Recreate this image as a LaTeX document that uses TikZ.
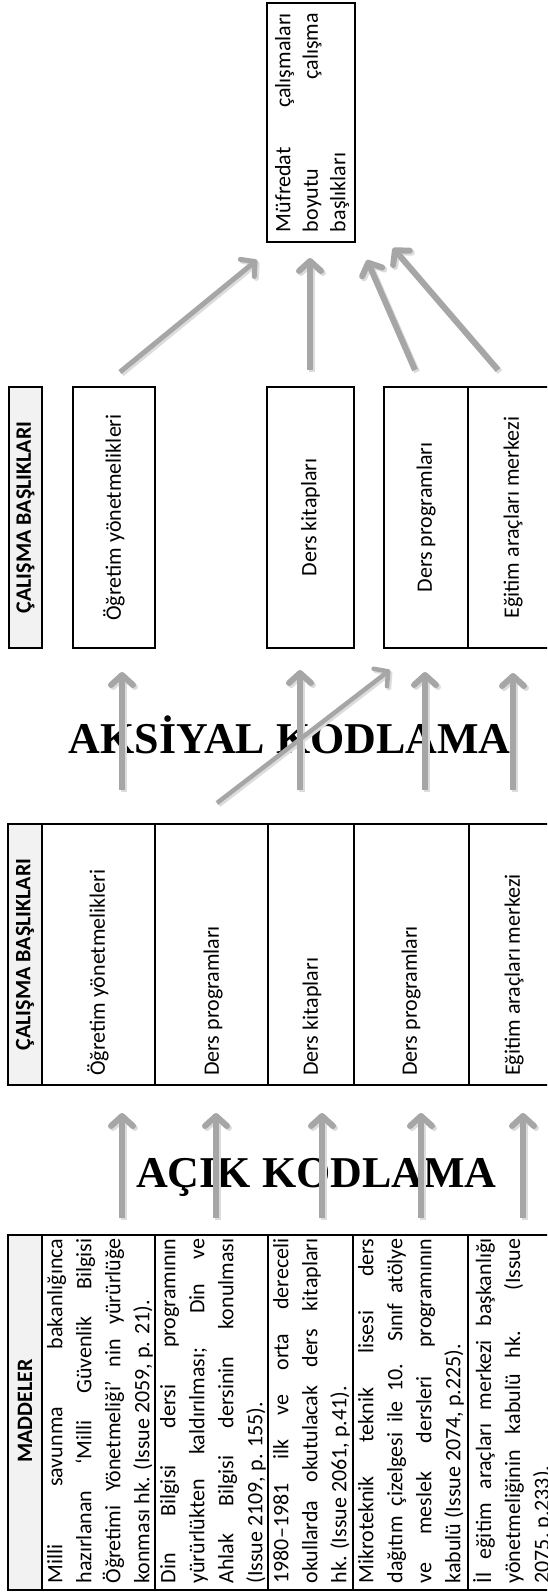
\documentclass[tikz,border=0pt]{standalone}
\usepackage{fontspec}
\setmainfont{Carlito}
\newfontfamily\titlefont{Liberation Serif}
\usetikzlibrary{arrows.meta}
\definecolor{headgray}{HTML}{F2F2F2}
\definecolor{arrowgray}{HTML}{A6A6A6}
\definecolor{shadegray}{HTML}{DCDCDC}

\tikzset{
  cell/.style={draw=black, line width=1.5pt},
  headcell/.style={cell, fill=headgray},
  celltext/.style={rotate=90, inner sep=0pt, font=\fontsize{22}{29}\selectfont},
  itemtext/.style={celltext, anchor=north, text width=345pt, align=justify,
    execute at begin node={\tolerance=10000\hbadness=10000\hyphenpenalty=10000}},
  headtext/.style={celltext, font=\fontsize{22}{29}\selectfont\bfseries},
  codetitle/.style={inner sep=0pt, font=\titlefont\bfseries\fontsize{44}{50}\selectfont},
  codearrow/.style={draw=arrowgray, line width=#1, -{Straight Barb[length=10pt,width=22pt,round]}},
  codearrow/.default=6pt,
  arrowshade/.style={codearrow=#1, draw=shadegray},
  arrowshade/.default=6pt,
}

\begin{document}
\begin{tikzpicture}[x=1pt,y=-1pt]
\useasboundingbox (0,0) rectangle (547,1592);
\clip (0,0) rectangle (547,1592);
\fill[white] (0,0) rectangle (547,1592);

% top box
\draw[line width=2.5pt] (267,3) rectangle (355,242);
\node[itemtext, text width=219pt, font=\fontsize{22}{27.5}\selectfont] (mufredat) at (275,122.5)
  {Müfredat çalışmaları\linebreak boyutu çalışma\linebreak başlıkları};

% second set of headings
\draw[headcell] (9,387) rectangle (42,648);
\node[headtext] (head2) at (25.5,517.5) {ÇALIŞMA BAŞLIKLARI};
\draw[cell] (73,387) rectangle (155,648);
\node[celltext] (ogr2) at (114,517.5) {Öğretim yönetmelikleri};
\draw[cell] (267,387) rectangle (354,648);
\node[celltext] (kit2) at (310.5,517.5) {Ders kitapları};
\draw[cell] (384,387) rectangle (559,648);
\draw[cell] (468,387) -- (468,648);
\node[celltext] (prg2) at (426,517.5) {Ders programları};
\node[celltext] (ega2) at (513,517.5) {Eğitim araçları merkezi};

% first set of headings
\draw[cell] (8,824) rectangle (559,1085);
\draw[headcell] (8,824) rectangle (42,1085);
\foreach \x in {155,268,354,469}
  \draw[cell] (\x,824) -- (\x,1085);
\node[headtext] (head1) at (25,954.5) {ÇALIŞMA BAŞLIKLARI};
\node[celltext, anchor=west] (ogr1) at (98,1076) {Öğretim yönetmelikleri};
\node[celltext, anchor=west] (prg1) at (213,1076) {Ders programları};
\node[celltext, anchor=west] (kit1) at (312,1076) {Ders kitapları};
\node[celltext, anchor=west] (prg1b) at (411,1076) {Ders programları};
\node[celltext, anchor=west] (ega1) at (514,1076) {Eğitim araçları merkezi};

% items
\draw[cell] (8,1235) rectangle (559,1590);
\draw[headcell] (8,1235) rectangle (42,1590);
\foreach \x in {155,268,353,468}
  \draw[cell] (\x,1235) -- (\x,1590);
\node[headtext] (head0) at (25,1411) {MADDELER};
\node[itemtext] (item1) at (47,1411)
  {Milli savunma bakanlığınca\linebreak hazırlanan ‘Milli Güvenlik Bilgisi\linebreak Öğretimi Yönetmeliği’ nin yürürlüğe\linebreak konması hk. (Issue 2059, p. 21).};
\node[itemtext] (item2) at (160,1411)
  {Din Bilgisi dersi programının\linebreak yürürlükten kaldırılması; Din ve\linebreak Ahlak Bilgisi dersinin konulması\linebreak (Issue 2109, p. 155).};
\node[itemtext] (item3) at (273,1411)
  {1980--1981 ilk ve orta dereceli\linebreak okullarda okutulacak ders kitapları\linebreak hk. (Issue 2061, p.41).};
\node[itemtext] (item4) at (358,1411)
  {Mikroteknik teknik lisesi ders\linebreak dağıtım çizelgesi ile 10. Sınıf atölye\linebreak ve meslek dersleri programının\linebreak kabulü (Issue 2074, p.225).};
\node[itemtext] (item5) at (473,1411)
  {İl eğitim araçları merkezi başkanlığı\linebreak yönetmeliğinin kabulü hk. (Issue\linebreak 2075, p.233).};

% coding titles
\node[codetitle, anchor=base] (acik) at (316.5,1187) {AÇIK KODLAMA};
\node[codetitle, anchor=base east] (aksiyal) at (511,753) {AKSİYAL KODLAMA};

% arrow ends
\coordinate (ac1s) at (122,1218); \coordinate (ac1e) at (122,1113);
\coordinate (ac2s) at (216,1218); \coordinate (ac2e) at (216,1113);
\coordinate (ac3s) at (322,1218); \coordinate (ac3e) at (322,1113);
\coordinate (ac4s) at (421,1218); \coordinate (ac4e) at (421,1113);
\coordinate (ac5s) at (523,1218); \coordinate (ac5e) at (523,1113);
\coordinate (ak1s) at (122,790); \coordinate (ak1e) at (122,672);
\coordinate (ak2s) at (217,803); \coordinate (ak2e) at (390,670);
\coordinate (ak3s) at (300,790); \coordinate (ak3e) at (300,670);
\coordinate (ak4s) at (425,790); \coordinate (ak4e) at (425,672);
\coordinate (ak5s) at (513,790); \coordinate (ak5e) at (513,673);
\coordinate (mf1s) at (120,372); \coordinate (mf1e) at (257,260);
\coordinate (mf2s) at (310,370); \coordinate (mf2e) at (310,258);
\coordinate (mf3s) at (415,370); \coordinate (mf3e) at (367,260);
\coordinate (mf4s) at (498,370); \coordinate (mf4e) at (393,248);

\foreach \a/\w in {ac1/6pt,ac2/6pt,ac3/6pt,ac4/6pt,ac5/6pt,ak1/6pt,ak2/4.5pt,ak3/6pt,ak4/6pt,ak5/6pt,mf1/5pt,mf2/6pt,mf3/6pt,mf4/6pt}
  \draw[arrowshade=\w] ([shift={(2,2)}]\a s) -- ([shift={(2,2)}]\a e);
\foreach \a/\w in {ac1/6pt,ac2/6pt,ac3/6pt,ac4/6pt,ac5/6pt,ak1/6pt,ak2/4.5pt,ak3/6pt,ak4/6pt,ak5/6pt,mf1/5pt,mf2/6pt,mf3/6pt,mf4/6pt}
  \draw[codearrow=\w] (\a s) -- (\a e);

\end{tikzpicture}
\end{document}
